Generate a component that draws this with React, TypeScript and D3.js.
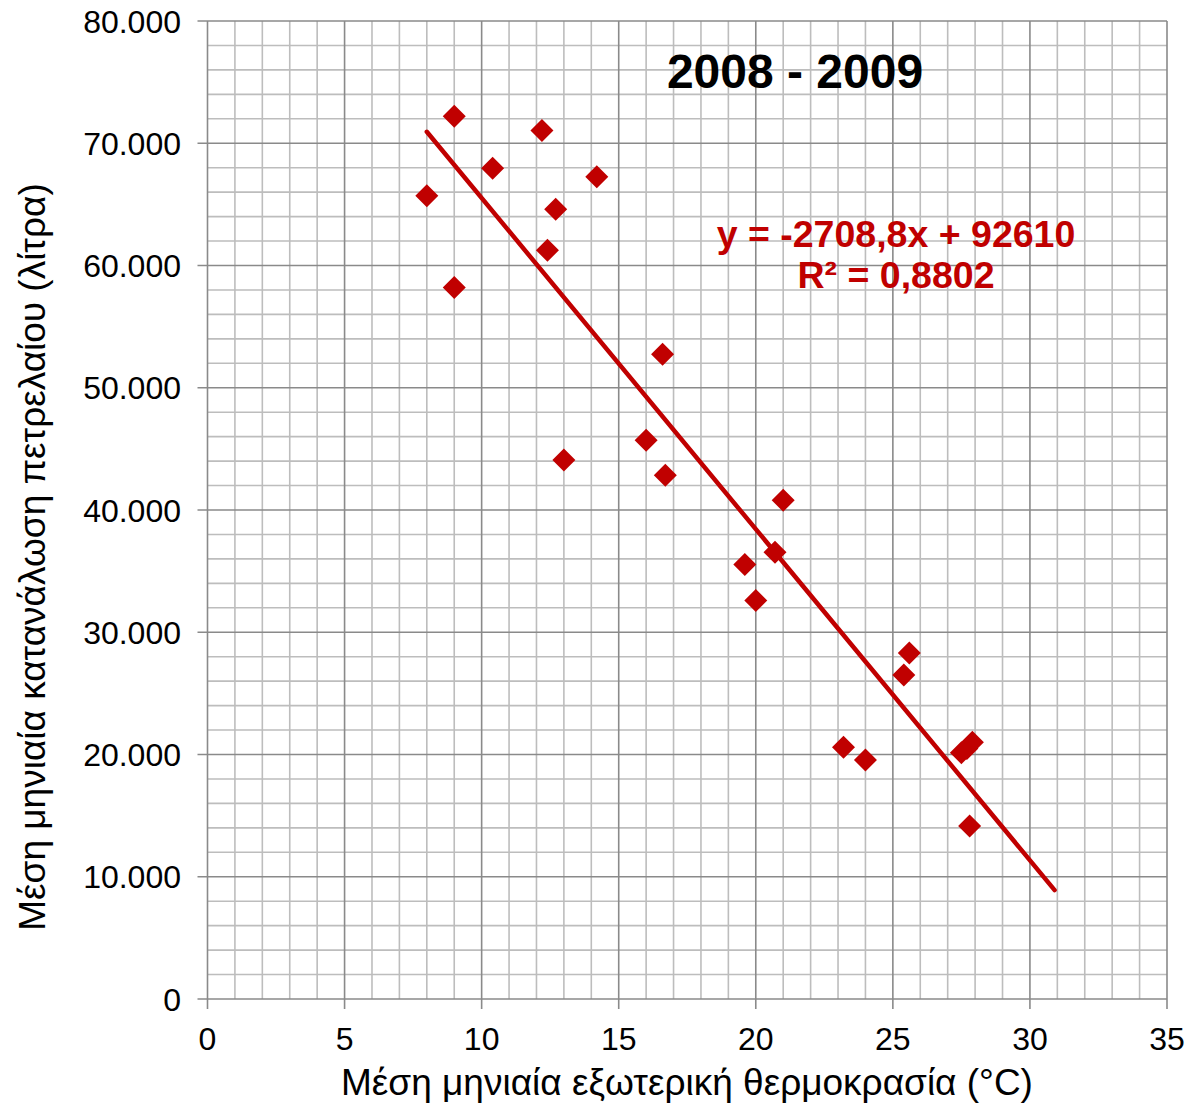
import * as d3 from 'd3';
import { useRef, useEffect } from 'react';

// Mean monthly outdoor temperature (°C) vs mean monthly oil consumption (litres)
const temps: number[] = [
    8.0, 9.0, 9.0, 10.4, 12.2, 12.7, 12.4, 14.2, 13.0, 16.6, 16.0, 16.7,
    21.0, 19.6, 20.7, 20.0, 25.6, 25.4, 23.2, 24.0, 27.5, 27.7, 27.9, 27.8,
];
const litres: number[] = [
    65700, 72200, 58200, 67950, 71050, 64600, 61250, 67250, 44100, 52750, 45700, 42850,
    40800, 35550, 36550, 32600, 28300, 26500, 20600, 19550, 20150, 20500, 21000, 14150,
];

const slope = -2708.8;
const intercept = 92610;
const forecastForward = 3;

const xTicks = [0, 5, 10, 15, 20, 25, 30, 35];
const yTicks = [0, 10000, 20000, 30000, 40000, 50000, 60000, 70000, 80000];

const title = '2008 - 2009';
const eqLine = 'y = -2708,8x + 92610';
const r2Line = 'R² = 0,8802';
const xTitle = 'Μέση μηνιαία εξωτερική θερμοκρασία (°C)';
const yTitle = 'Μέση μηνιαία κατανάλωση πετρελαίου (λίτρα)';

const W = 1187;
const H = 1106;
const font = '"Liberation Sans", Arial, sans-serif';
const red = '#C00000';

export default function App() {
    const svgRef = useRef<SVGSVGElement>(null);

    useEffect(() => {
        if (!svgRef.current) return;
        const svg = d3.select(svgRef.current);
        svg.selectAll('*').remove();

        const left = 207.5, right = 1167, top = 21, bottom = 999;

        const x = d3.scaleLinear().domain([0, 35]).range([left, right]);
        const y = d3.scaleLinear().domain([0, 80000]).range([bottom, top]);

        const grid = svg.append('g');

        // minor gridlines
        grid.selectAll('line.mx')
            .data(d3.range(0, 36, 1).filter(v => v % 5 !== 0))
            .enter().append('line')
            .attr('x1', d => x(d)).attr('x2', d => x(d))
            .attr('y1', top).attr('y2', bottom)
            .attr('stroke', '#bdbdbd').attr('stroke-width', 1.6);
        grid.selectAll('line.my')
            .data(d3.range(0, 80001, 2000).filter(v => v % 10000 !== 0))
            .enter().append('line')
            .attr('y1', d => y(d)).attr('y2', d => y(d))
            .attr('x1', left).attr('x2', right)
            .attr('stroke', '#bdbdbd').attr('stroke-width', 1.6);

        // major gridlines (with outside tick marks)
        grid.selectAll('line.Mx')
            .data(xTicks)
            .enter().append('line')
            .attr('x1', d => x(d)).attr('x2', d => x(d))
            .attr('y1', top).attr('y2', bottom + 10)
            .attr('stroke', '#8a8a8a').attr('stroke-width', 1.6);
        grid.selectAll('line.My')
            .data(yTicks)
            .enter().append('line')
            .attr('y1', d => y(d)).attr('y2', d => y(d))
            .attr('x1', left - 10).attr('x2', right)
            .attr('stroke', '#8a8a8a').attr('stroke-width', 1.6);

        // tick labels
        const fmt = (v: number) => v === 0 ? '0' : d3.format(',')(v).replace(/,/g, '.');
        svg.append('g').selectAll('text')
            .data(yTicks)
            .enter().append('text')
            .attr('x', 181).attr('y', d => y(d))
            .attr('dy', '0.36em')
            .attr('text-anchor', 'end')
            .attr('font-family', font).attr('font-size', 32)
            .text(d => fmt(d));
        svg.append('g').selectAll('text')
            .data(xTicks)
            .enter().append('text')
            .attr('x', d => x(d)).attr('y', 1050)
            .attr('text-anchor', 'middle')
            .attr('font-family', font).attr('font-size', 32)
            .text(d => String(d));

        // axis titles
        svg.append('text')
            .attr('x', 687).attr('y', 1095)
            .attr('text-anchor', 'middle')
            .attr('font-family', font).attr('font-size', 37)
            .text(xTitle);
        svg.append('text')
            .attr('transform', `translate(45,${(top + bottom) / 2 + 47}) rotate(-90)`)
            .attr('text-anchor', 'middle')
            .attr('font-family', font).attr('font-size', 37)
            .text(yTitle);

        // trendline
        const x0 = d3.min(temps) || 0;
        const x1 = (d3.max(temps) || 0) + forecastForward;
        svg.append('line')
            .attr('x1', x(x0)).attr('y1', y(slope * x0 + intercept))
            .attr('x2', x(x1)).attr('y2', y(slope * x1 + intercept))
            .attr('stroke', red).attr('stroke-width', 4.5)
            .attr('stroke-linecap', 'round');

        // points
        const s = 11.5;
        svg.append('g').selectAll('path')
            .data(temps.map((t, i) => [t, litres[i]]))
            .enter().append('path')
            .attr('transform', d => `translate(${x(d[0])},${y(d[1])})`)
            .attr('d', `M0,${-s}L${s},0L0,${s}L${-s},0Z`)
            .attr('fill', red);

        // title & equation
        svg.append('text')
            .attr('x', 795).attr('y', 88)
            .attr('text-anchor', 'middle')
            .attr('font-family', font).attr('font-size', 48).attr('font-weight', 'bold')
            .text(title);
        svg.append('text')
            .attr('x', 896).attr('y', 247)
            .attr('text-anchor', 'middle').attr('fill', red)
            .attr('font-family', font).attr('font-size', 37.5).attr('font-weight', 'bold')
            .text(eqLine);
        svg.append('text')
            .attr('x', 896).attr('y', 288)
            .attr('text-anchor', 'middle').attr('fill', red)
            .attr('font-family', font).attr('font-size', 37.5).attr('font-weight', 'bold')
            .text(r2Line);
    }, []);

    return (
        <svg ref={svgRef} width={W} height={H}
            style={{ position: 'absolute', left: 0, top: 0, background: '#fff' }} />
    );
}
